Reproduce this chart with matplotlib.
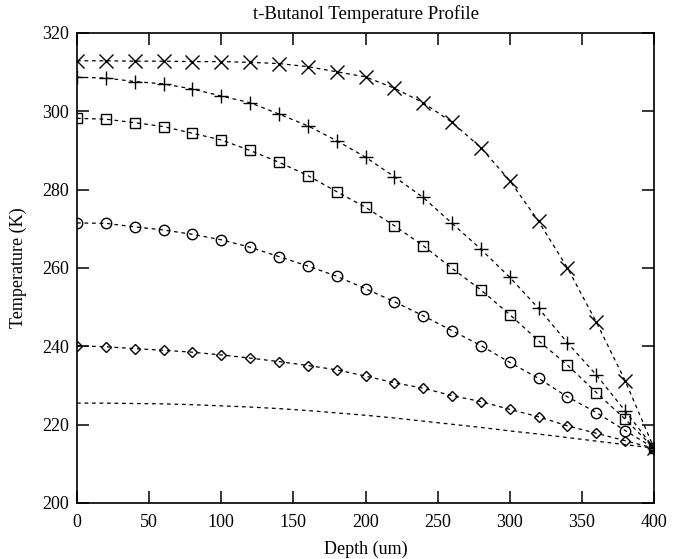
import matplotlib
matplotlib.use("Agg")
import matplotlib.pyplot as plt

# depth positions (um)
depth = [0, 20, 40, 60, 80, 100, 120, 140, 160, 180, 200,
         220, 240, 260, 280, 300, 320, 340, 360, 380, 400]

# temperature profiles (K)
t_cross = [312.9, 312.9, 312.8, 312.8, 312.7, 312.7, 312.5, 312.2, 311.4, 310.1, 308.8,
           305.9, 302.2, 297.2, 290.7, 282.3, 271.9, 260.0, 246.2, 231.2, 214.0]
t_plus = [308.7, 308.5, 307.6, 307.0, 305.7, 303.9, 302.2, 299.3, 296.3, 292.5, 288.3,
          283.3, 278.0, 271.4, 264.8, 257.6, 249.7, 240.9, 232.7, 223.5, 214.0]
t_square = [298.2, 298.0, 297.1, 296.1, 294.4, 292.7, 290.0, 287.0, 283.6, 279.5, 275.5,
            270.8, 265.7, 259.9, 254.4, 248.1, 241.4, 235.2, 228.2, 221.4, 214.0]
t_circle = [271.5, 271.4, 270.5, 269.7, 268.6, 267.2, 265.3, 262.9, 260.5, 257.9, 254.7,
            251.4, 247.8, 244.0, 240.2, 235.9, 231.8, 227.1, 223.1, 218.5, 214.0]
t_diamond = [240.1, 239.9, 239.4, 239.0, 238.5, 237.8, 237.0, 236.1, 235.1, 234.0, 232.4,
             230.7, 229.3, 227.4, 225.9, 223.9, 222.0, 219.7, 217.8, 215.9, 214.0]
t_plain = [225.5, 225.5, 225.4, 225.3, 225.1, 224.8, 224.5, 224.1, 223.6, 223.0, 222.4,
           221.7, 220.9, 220.1, 219.3, 218.4, 217.6, 216.7, 215.8, 214.9, 214.0]

x_ticks = [0, 50, 100, 150, 200, 250, 300, 350, 400]
y_ticks = [200, 220, 240, 260, 280, 300, 320]

plt.rcParams['font.family'] = ['Liberation Serif', 'DejaVu Serif']

fig = plt.figure(figsize=(6.73, 5.59), dpi=100)
ax = fig.add_axes([0.1144, 0.1002, 0.8574, 0.8408])

series = [
    (t_cross, 'x', 9.5),
    (t_plus, '+', 10),
    (t_square, 's', 6.5),
    (t_circle, 'o', 7.5),
    (t_diamond, 'D', 5),
]
for vals, mk, ms in series:
    ax.plot(depth, vals, color='black', linewidth=0.9, dashes=(3, 3),
            marker=mk, markersize=ms, markerfacecolor='none',
            markeredgecolor='black', markeredgewidth=1.0)
ax.plot(depth, t_plain, color='black', linewidth=0.9, dashes=(3, 3))

ax.set_xlim(0, 400)
ax.set_ylim(200, 320)
ax.set_xticks(x_ticks)
ax.set_yticks(y_ticks)
ax.tick_params(direction='in', length=8.5, width=1.1, top=True, right=True,
               labelsize=13, pad=6, colors='black')
ax.tick_params(axis='x', pad=8)
for sp in ax.spines.values():
    sp.set_linewidth(1.2)

ax.set_title('t-Butanol Temperature Profile', fontsize=13.5, pad=10)
ax.set_xlabel('Depth (um)', fontsize=13, labelpad=7)
ax.set_ylabel('Temperature (K)', fontsize=13, labelpad=11)

fig.savefig('out.png', dpi=100)
